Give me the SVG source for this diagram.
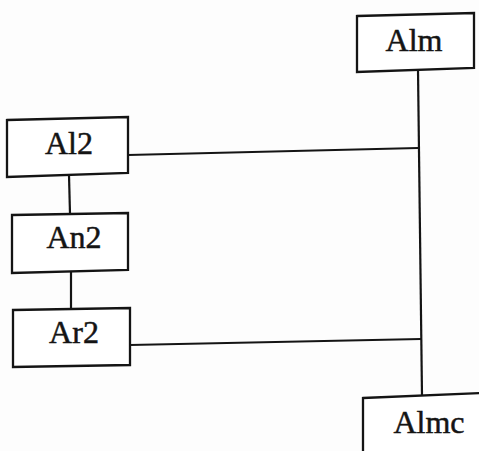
<svg xmlns="http://www.w3.org/2000/svg" width="479" height="451" viewBox="0 0 479 451">
  <style>
    .box { fill: #ffffff; stroke: #141414; stroke-width: 2.3; stroke-linejoin: miter; }
    .wire { fill: none; stroke: #141414; stroke-width: 2.2; }
    .label { font-family: "Liberation Serif", "Times New Roman", serif; font-size: 32px; fill: #141414; stroke: #141414; stroke-width: 0.5; text-anchor: middle; }
  </style>
  <rect x="0" y="0" width="479" height="451" fill="#fdfdfd"/>

  <!-- connectors -->
  <g id="connectors">
    <line class="wire" x1="418" y1="70" x2="422" y2="396"/>
    <line class="wire" x1="128" y1="155" x2="418" y2="148"/>
    <line class="wire" x1="130" y1="345" x2="421" y2="339"/>
    <line class="wire" x1="69" y1="175" x2="70" y2="214"/>
    <line class="wire" x1="71" y1="271" x2="71" y2="309"/>
  </g>

  <!-- nodes -->
  <g id="node-alm">
    <polygon class="box" points="357,16 474,13 474,68 357,72"/>
    <text class="label" x="414" y="51">Alm</text>
  </g>
  <g id="node-al2">
    <polygon class="box" points="7,120 128,117 128,173 7,177"/>
    <text class="label" x="69" y="154">Al2</text>
  </g>
  <g id="node-an2">
    <polygon class="box" points="12,215 128,213 128,270 12,273"/>
    <text class="label" x="74" y="248">An2</text>
  </g>
  <g id="node-ar2">
    <polygon class="box" points="13,310 130,308 130,365 13,367"/>
    <text class="label" x="74" y="343">Ar2</text>
  </g>
  <g id="node-almc">
    <polygon class="box" points="363,398 482,393 482,455 363,455"/>
    <text class="label" x="429" y="433">Almc</text>
  </g>
</svg>
